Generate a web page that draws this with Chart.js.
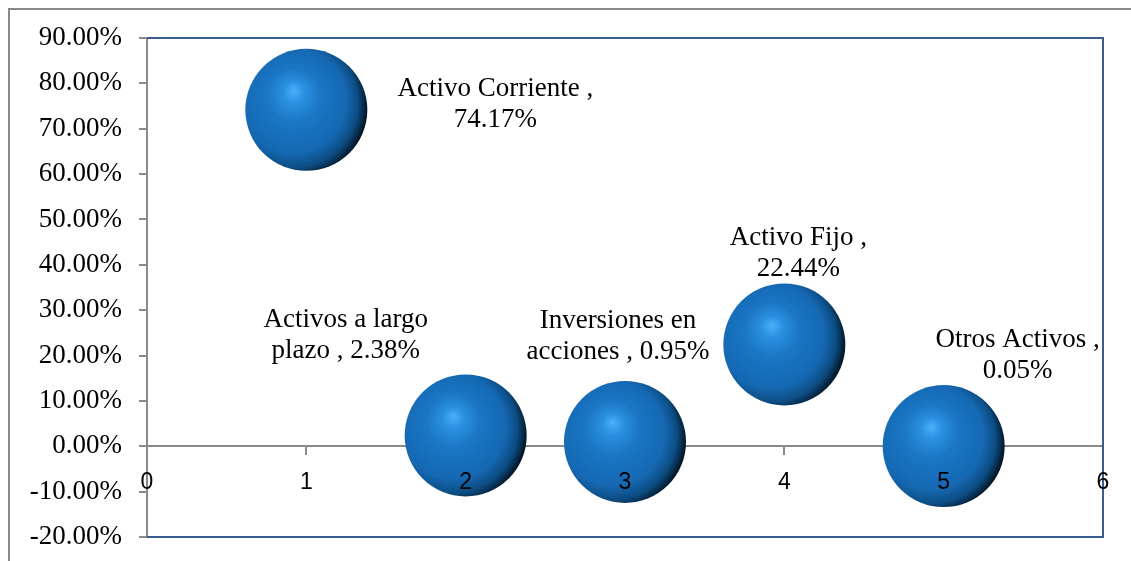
<!DOCTYPE html>
<html><head><meta charset="utf-8">
<script src="https://cdn.jsdelivr.net/npm/chart.js@4.4.1/dist/chart.umd.min.js"></script>
<style>html,body{margin:0;padding:0;background:#fff;overflow:hidden}#wrap{width:1131px;height:561px;}</style>
</head><body><div id="wrap"><canvas id="c" width="1131" height="561"></canvas></div>
<script>
// ---- data ----
const categories = ['Activo Corriente', 'Activos a largo plazo', 'Inversiones en acciones', 'Activo Fijo', 'Otros Activos'];
const xValues = [1, 2, 3, 4, 5];
const yValues = [74.17, 2.38, 0.95, 22.44, 0.05];
const yTickMin = -20, yTickMax = 90, yTickStep = 10;
const xTickMin = 0, xTickMax = 6, xTickStep = 1;

// ---- presentation ----
const labelOffsets = [[189, -5], [-120, -100], [-7, -106], [14, -91], [74, -91]];
const SERIF = '"Liberation Serif", "DejaVu Serif", serif';
const SANS = '"Liberation Sans", "DejaVu Sans", sans-serif';

function sphere(ctx) {
  if (!ctx.parsed || ctx.type !== 'data') return '#1a72c0';
  const chart = ctx.chart;
  const cx = chart.scales.x.getPixelForValue(ctx.parsed.x);
  const cy = chart.scales.y.getPixelForValue(ctx.parsed.y);
  if (!isFinite(cx) || !isFinite(cy)) return '#1a72c0';
  const r = 61;
  const g = chart.ctx.createRadialGradient(cx - 0.2 * r, cy - 0.32 * r, 0, cx - 0.22 * r, cy - 0.08 * r, 1.24 * r);
  g.addColorStop(0, '#48b2fa');
  g.addColorStop(0.14, '#2b90e2');
  g.addColorStop(0.36, '#1a76c4');
  g.addColorStop(0.7, '#1568b2');
  g.addColorStop(0.86, '#0c4c82');
  g.addColorStop(1, '#020f1c');
  return g;
}

function wrap(c, text, maxW) {
  const words = text.split(' ');
  const lines = [];
  let cur = '';
  for (const w of words) {
    const t = cur ? cur + ' ' + w : w;
    if (cur && c.measureText(t).width > maxW) { lines.push(cur); cur = w; } else cur = t;
  }
  if (cur) lines.push(cur);
  return lines;
}

function noPad(s) { s.paddingLeft = 0; s.paddingRight = 0; s.paddingTop = 0; s.paddingBottom = 0; }

const decor = {
  id: 'decor',
  beforeDraw(chart) {
    const c = chart.ctx;
    c.save();
    c.strokeStyle = '#8a8a8a';
    c.lineWidth = 2;
    c.strokeRect(9, 9, 1400, 800);
    c.restore();
  },
  beforeDatasetsDraw(chart) {
    const a = chart.chartArea, c = chart.ctx;
    c.save();
    c.strokeStyle = '#3a5e8c';
    c.lineWidth = 2;
    c.beginPath();
    c.moveTo(a.left, a.top); c.lineTo(a.right, a.top); c.lineTo(a.right, a.bottom); c.lineTo(a.left, a.bottom);
    c.stroke();
    c.restore();
  },
  afterDraw(chart) {
    const c = chart.ctx;
    const meta = chart.getDatasetMeta(0);
    c.save();
    c.font = '27px ' + SERIF;
    c.fillStyle = '#000';
    c.textAlign = 'center';
    c.textBaseline = 'middle';
    meta.data.forEach((el, i) => {
      const txt = categories[i] + ' , ' + yValues[i].toFixed(2) + '%';
      const lines = wrap(c, txt, 205);
      const lh = 31;
      const cx = el.x + labelOffsets[i][0];
      const cy = el.y + labelOffsets[i][1];
      lines.forEach((ln, k) => {
        c.fillText(ln, cx, cy + (k - (lines.length - 1) / 2) * lh);
      });
    });
    c.restore();
  }
};

new Chart(document.getElementById('c'), {
  type: 'bubble',
  data: {
    datasets: [{
      data: xValues.map((x, i) => ({ x: x, y: yValues[i] })),
      backgroundColor: sphere,
      hoverBackgroundColor: sphere,
      borderWidth: 0,
      radius: 61,
      hoverRadius: 0,
      clip: false
    }]
  },
  options: {
    responsive: false,
    animation: false,
    events: [],
    layout: { autoPadding: false, padding: { top: 38, right: 28, bottom: 24, left: 0 } },
    plugins: { legend: { display: false }, tooltip: { enabled: false } },
    scales: {
      y: {
        type: 'linear', position: 'left',
        min: yTickMin, max: yTickMax,
        afterFit(s) { s.width = 147; noPad(s); },
        ticks: {
          stepSize: yTickStep, color: '#000', padding: 17,
          font: { family: SERIF, size: 27 },
          callback: v => v.toFixed(2) + '%'
        },
        grid: { display: true, drawOnChartArea: false, drawTicks: true, tickLength: 8, color: '#8a8a8a', lineWidth: 2 },
        border: { display: true, color: '#8a8a8a', width: 2 }
      },
      x: {
        type: 'linear', position: { y: 0 },
        min: xTickMin, max: xTickMax,
        afterFit: noPad,
        ticks: { stepSize: xTickStep, display: false },
        grid: { display: true, drawOnChartArea: false, drawTicks: true, tickLength: 8, color: '#8a8a8a', lineWidth: 2 },
        border: { display: true, color: '#8a8a8a', width: 2 }
      },
      x2: {
        type: 'linear', axis: 'x', position: { y: 0 },
        min: xTickMin, max: xTickMax,
        afterFit: noPad,
        ticks: { stepSize: xTickStep, color: '#000', padding: 15, z: 1, font: { family: SANS, size: 23 }, maxRotation: 0 },
        grid: { display: false },
        border: { display: false }
      }
    }
  },
  plugins: [decor]
});
</script>
</body></html>
